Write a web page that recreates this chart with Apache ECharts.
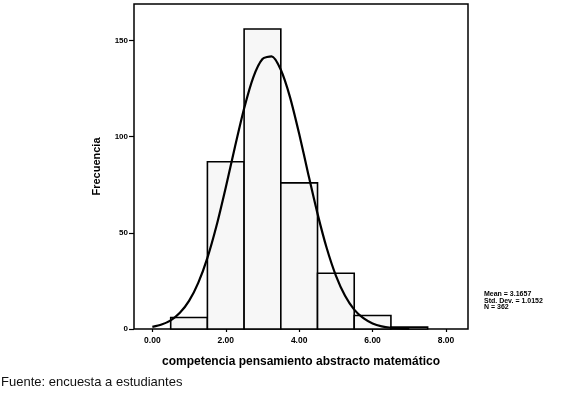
<!DOCTYPE html>
<html>
<head>
<meta charset="utf-8">
<script src="https://cdn.jsdelivr.net/npm/echarts@6/dist/echarts.min.js"></script>
<style>
  html, body { margin: 0; padding: 0; background: #fff; }
  #chart { width: 562px; height: 399px; }
</style>
</head>
<body>
<div id="chart"></div>
<script>
// histograma: centro de cada clase y frecuencia
const binCenters = [1, 2, 3, 4, 5, 6, 7];
const binCounts = [6, 87, 156, 76, 29, 7, 1];

// curva normal
const curveX = [0, 0.25, 0.5, 0.75, 1, 1.25, 1.5, 1.75, 2, 2.25, 2.5, 2.75, 3, 3.25, 3.5, 3.75, 4, 4.25, 4.5, 4.75, 5, 5.25, 5.5, 5.75, 6, 6.25, 6.5, 6.75, 7];
const curveY = [1.1, 2.3, 4.5, 8.4, 14.6, 24, 37, 53.8, 73.6, 94.7, 114.7, 130.9, 140.4, 141.8, 134.8, 120.6, 101.5, 80.4, 60, 42.1, 27.8, 17.3, 10.1, 5.6, 2.9, 1.4, 0.65, 0.3, 0.1];

const xTickValues = [0, 2, 4, 6, 8];
const yTickValues = [0, 50, 100, 150];
const statsLines = ['Mean = 3.1657', 'Std. Dev. = 1.0152', 'N = 362'];

const chart = echarts.init(document.getElementById('chart'));

const boldFont = 'Liberation Sans, Arial, sans-serif';

const option = {
    animation: false,
    backgroundColor: '#fff',
    grid: {
        left: 134, right: 94, top: 4, bottom: 70,
        show: true, borderColor: '#000', borderWidth: 1.5, backgroundColor: '#fff'
    },
    xAxis: {
        type: 'value',
        min: -0.5,
        max: 8.6,
        name: 'competencia pensamiento abstracto matemático',
        nameLocation: 'middle',
        nameGap: 27,
        nameTextStyle: { fontFamily: boldFont, fontWeight: 'bold', fontSize: 12, color: '#000' },
        axisLine: { show: false, onZero: false },
        splitLine: { show: false },
        axisTick: { show: true, length: 3, customValues: xTickValues, lineStyle: { color: '#000', width: 1.2 } },
        axisLabel: {
            customValues: xTickValues,
            formatter: v => v.toFixed(2),
            fontFamily: boldFont, fontWeight: 'bold', fontSize: 8.5, color: '#000', margin: 7
        }
    },
    yAxis: {
        type: 'value',
        min: 0,
        max: 169,
        name: 'Frecuencia',
        nameLocation: 'middle',
        nameGap: 32,
        nameTextStyle: { fontFamily: boldFont, fontWeight: 'bold', fontSize: 11, color: '#000' },
        axisLine: { show: false, onZero: false },
        splitLine: { show: false },
        axisTick: { show: true, length: 5, customValues: yTickValues, lineStyle: { color: '#000', width: 1.2 } },
        axisLabel: {
            customValues: yTickValues,
            fontFamily: boldFont, fontWeight: 'bold', fontSize: 8, color: '#000', margin: 6
        }
    },
    series: [
        {
            type: 'custom',
            data: binCenters.map((c, i) => [c, binCounts[i]]),
            renderItem: function (params, api) {
                const c = api.value(0);
                const h = api.value(1);
                const p0 = api.coord([c - 0.5, 0]);
                const p1 = api.coord([c + 0.5, h]);
                return {
                    type: 'rect',
                    shape: { x: p0[0], y: p1[1], width: p1[0] - p0[0], height: p0[1] - p1[1] },
                    style: { fill: '#f7f7f7', stroke: '#000', lineWidth: 1.6 }
                };
            },
            z: 2
        },
        {
            type: 'line',
            data: curveX.map((x, i) => [x, curveY[i]]),
            smooth: 0.25,
            symbol: 'none',
            lineStyle: { color: '#000', width: 2.2 },
            z: 3
        }
    ],
    graphic: [
        {
            type: 'text',
            left: 484,
            top: 291,
            style: {
                text: statsLines.join('\n'),
                fontFamily: boldFont,
                fontWeight: 'bold',
                fontSize: 7,
                lineHeight: 6.5,
                fill: '#000'
            }
        },
        {
            type: 'text',
            left: 1,
            top: 376,
            style: {
                text: 'Fuente: encuesta a estudiantes',
                fontFamily: 'Liberation Sans, Arial, sans-serif',
                fontSize: 13,
                fill: '#111'
            }
        }
    ]
};

chart.setOption(option);
</script>
</body>
</html>
